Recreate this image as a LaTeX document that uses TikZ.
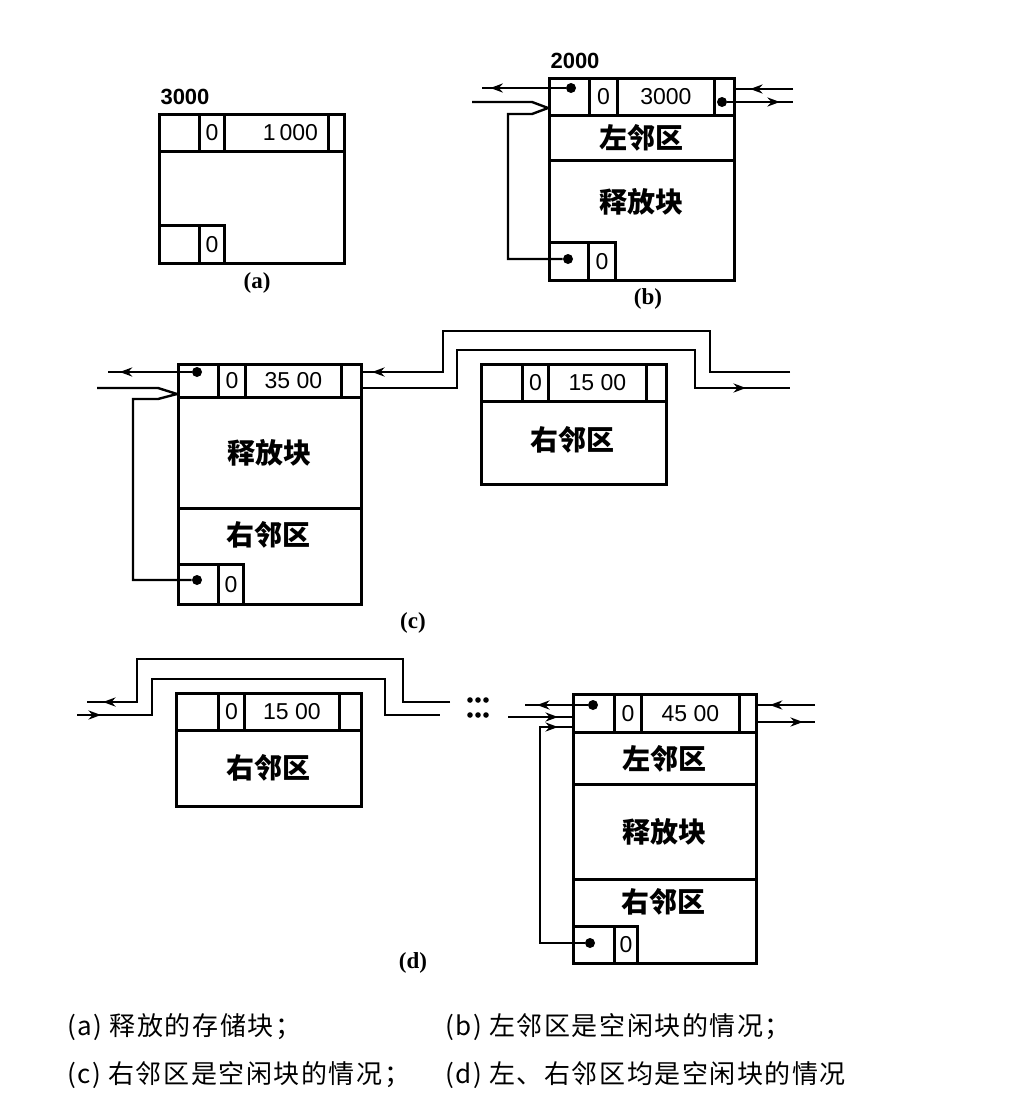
\documentclass[tikz,border=0pt]{standalone}
\usepackage{fontspec}
\setmainfont{Liberation Sans}
\newfontfamily\cjk{Noto Sans CJK SC}
\newfontfamily\cjkcap[LetterSpace=6]{Noto Sans CJK SC}
\newfontfamily\labserif{Liberation Serif}
\usetikzlibrary{arrows.meta,decorations.markings}
\tikzset{
  blk/.style={draw,line width=1.4pt,inner sep=0pt,anchor=north west},
  cell/.style args={#1x#2}{blk,minimum width=#1pt,minimum height=#2pt,font=\fontsize{11.5}{13}\selectfont},
  zone/.style={font=\cjk\bfseries\fontsize{14}{16}\selectfont},
  num/.style={font=\bfseries\fontsize{11}{13}\selectfont},
  dot/.style={circle,fill,inner sep=0pt,minimum size=5pt},
  sub/.style={font=\labserif\bfseries\fontsize{11.5}{13}\selectfont},
  captext/.style={anchor=west,font=\cjkcap\fontsize{13}{15}\selectfont},
  lnk/.style={line width=1.2pt},
  marr/.style={postaction={decorate},decoration={markings,mark=at position #1 with {\arrow{Stealth[length=2.2mm,width=1.6mm]}}}},
}
\begin{document}
\begin{tikzpicture}[x=0.5pt,y=-0.5pt]
\useasboundingbox (0,0) rectangle (1011,1119);

% (a) released block
\node[num] (aAddr) at (185,97) {3000};
\node[cell=92.5x74.5] (aBlk) at (158,113) {};
\node[cell=20x18.5]   (aL)   at (158,113) {};
\node[cell=12.5x18.5] (aTag) at (198,113) {0};
\node[cell=52x18.5]   (aSize) at (223,113) {\hspace{14pt}1\,000};
\node[cell=8x18.5]    (aR)   at (327,113) {};
\node[cell=20x19]     (aBL)  at (158,224) {};
\node[cell=12.5x19]   (aBT)  at (198,224) {0};
\node[sub] (aSub) at (257,283) {(a)};

% (b) left neighbour free
\node[num] (bAddr) at (575,61) {2000};
\node[cell=92.5x101]  (bBlk) at (548,77) {};
\node[cell=20x18.5]   (bL)   at (548,77) {};
\node[cell=14x18.5]   (bTag) at (588,77) {0};
\node[cell=48.5x18.5] (bSize) at (616,77) {3000};
\node[cell=10x18.5]   (bR)   at (713,77) {};
\node[blk,minimum width=92.5pt,minimum height=22.5pt,zone] (bLeft) at (548,114) {左邻区};
\node[zone] (bFree) at (641,202) {释放块};
\node[cell=19.5x19]   (bBL)  at (548,241) {};
\node[cell=13.5x19]   (bBT)  at (587,241) {0};
\node[dot] (bDotL) at (571,88) {};
\node[dot] (bDotR) at (722,102) {};
\node[dot] (bDotB) at (568,259) {};
\node[sub] (bSub) at (648,299) {(b)};
\coordinate (bOutL) at (482,88);
\coordinate (bInL)  at (472,102);
\coordinate (bTip)  at (548,108);
\coordinate (bInR)  at (793,89);
\coordinate (bOutR) at (793,102);
\draw[lnk,marr=0.9] (bDotL) -- (bOutL);
\draw[lnk] (bInL) -- (532,102) -- (bTip);
\draw[lnk] (bDotB) -- (508,259) -- (508,114) -- (532,114) -- (bTip);
\draw[lnk,marr=0.75] (bInR) -- (bInR -| bBlk.east);
\draw[lnk,marr=0.8] (bDotR) -- (bOutR);

% (c) right neighbour free
\node[cell=91.5x120]  (cBlk) at (177,363) {};
\node[cell=20x16.5]   (cL)   at (177,363) {};
\node[cell=13.5x16.5] (cTag) at (217,363) {0};
\node[cell=48x16.5]   (cSize) at (244,363) {35 00};
\node[cell=10x16.5]   (cR)   at (340,363) {};
\node[blk,minimum width=91.5pt,minimum height=55.5pt,zone] (cFree) at (177,396) {释放块};
\node[zone] (cRight) at (268,535) {右邻区};
\node[cell=20x20]     (cBL)  at (177,563) {};
\node[cell=12.5x20]   (cBT)  at (217,563) {0};
\node[dot] (cDotL) at (197,372) {};
\node[dot] (cDotB) at (197,580) {};
\node[cell=92.5x60]   (cNbr) at (480,363) {};
\node[cell=20.5x18.5] (cnL)  at (480,363) {};
\node[cell=13x18.5]   (cnTag) at (521,363) {0};
\node[cell=49x18.5]   (cnSize) at (547,363) {15 00};
\node[cell=10x18.5]   (cnR)  at (645,363) {};
\node[zone] (cnRight) at (572,440) {右邻区};
\node[sub] (cSub) at (413,623) {(c)};
\coordinate (cOutL) at (108,372);
\coordinate (cInL)  at (97,388);
\coordinate (cTip)  at (177,394);
\coordinate (cRa) at (360,372);
\coordinate (cRb) at (360,388);
\coordinate (cFarA) at (790,372);
\coordinate (cFarB) at (790,388);
\draw[lnk,marr=0.86] (cDotL) -- (cOutL);
\draw[lnk] (cInL) -- (158,388) -- (cTip);
\draw[lnk] (cDotB) -- (133,580) -- (133,399) -- (158,399) -- (cTip);
\draw[lnk,marr=-6pt] (cFarA) -- (710,372) -- (710,331) -- (443,331) -- (443,372) -- (cRa);
\draw[lnk,marr=-22pt] (cRb) -- (457,388) -- (457,350) -- (695,350) -- (695,388) -- (cFarB);

% (d) both neighbours free
\node[cell=92.5x56.5] (dNbr) at (175,692) {};
\node[cell=21x18.5]   (dnL)  at (175,692) {};
\node[cell=13x18.5]   (dnTag) at (217,692) {0};
\node[cell=47.5x18.5] (dnSize) at (243,692) {15 00};
\node[cell=11x18.5]   (dnR)  at (338,692) {};
\node[zone] (dnRight) at (268,768) {右邻区};
\coordinate (dFarA) at (87,702);
\coordinate (dEndA) at (450,702);
\coordinate (dFarB) at (77,715);
\coordinate (dEndB) at (440,715);
\draw[lnk,marr=-8pt] (dEndA) -- (403,702) -- (403,659) -- (137,659) -- (137,702) -- (dFarA);
\draw[lnk,marr=12pt] (dFarB) -- (152,715) -- (152,679) -- (385,679) -- (385,715) -- (dEndB);
\foreach \px in {470,478,486} {
  \foreach \py in {700,715} \fill (\px,\py) circle (1.4pt);
}
\node[cell=91.5x134.5] (dBlk) at (572,693) {};
\node[cell=20.5x19]   (dL)   at (572,693) {};
\node[cell=13.5x19]   (dTag) at (613,693) {0};
\node[cell=49x19]     (dSize) at (640,693) {45 00};
\node[cell=8.5x19]    (dR)   at (738,693) {};
\node[blk,minimum width=91.5pt,minimum height=26pt,zone] (dLeft) at (572,731) {左邻区};
\node[blk,minimum width=91.5pt,minimum height=47.5pt,zone] (dFree) at (572,783) {释放块};
\node[zone] (dRight) at (663,902) {右邻区};
\node[cell=20.5x18.5] (dBL)  at (572,925) {};
\node[cell=11.5x18.5] (dBT)  at (613,925) {0};
\node[dot] (dDotL) at (593,705) {};
\node[dot] (dDotB) at (590,943) {};
\node[sub] (dSub) at (413,963) {(d)};
\coordinate (dOutL) at (525,705);
\coordinate (dInL)  at (508,717);
\coordinate (dInR)  at (815,705);
\coordinate (dOutR) at (815,722);
\draw[lnk,marr=-6pt] (dDotL) -- (dOutL);
\draw[lnk,marr=25pt] (dInL) -- (dInL -| dBlk.west);
\draw[lnk,marr=-7pt] (dDotB) -- (540,943) -- (540,727) -- (572,727);
\draw[lnk,marr=-6pt] (dInR) -- (dInR -| dBlk.east);
\draw[lnk,marr=-6pt] (dOutR -| dBlk.east) -- (dOutR);

% captions
\node[captext] (capA) at (60,1027) {(a) 释放的存储块；};
\node[captext] (capB) at (438,1027) {(b) 左邻区是空闲块的情况；};
\node[captext] (capC) at (60,1075) {(c) 右邻区是空闲块的情况；};
\node[captext] (capD) at (438,1075) {(d) 左、右邻区均是空闲块的情况};
\end{tikzpicture}
\end{document}
